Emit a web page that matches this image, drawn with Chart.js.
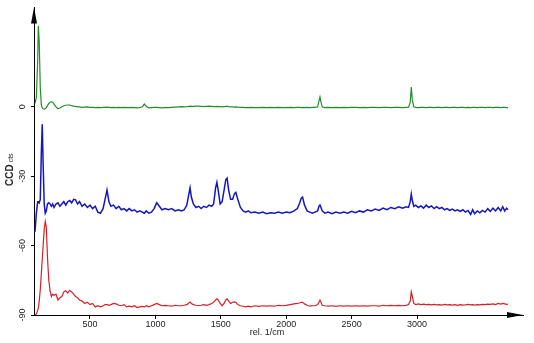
<!DOCTYPE html>
<html>
<head>
<meta charset="utf-8">
<script src="https://cdn.jsdelivr.net/npm/chart.js@4"></script>
<style>
html, body { margin: 0; padding: 0; background: #fff; }
#wrap { width: 534px; height: 343px; }
</style>
</head>
<body>
<div id="wrap"><canvas id="spec"></canvas></div>
<script>
// Raman shift in rel. 1/cm, shared by the three spectra
const shift = [
  80, 90, 100, 105, 112, 120, 128, 135, 142, 150, 158, 166, 175, 185, 195, 205, 215, 225, 240, 255,
  270, 285, 300, 315, 330, 345, 360, 375, 390, 405, 420, 440, 460, 480, 500, 520, 540, 560, 580, 600,
  615, 630, 645, 660, 680, 700, 720, 740, 760, 780, 800, 820, 840, 860, 880, 900, 915, 930, 950, 970,
  990, 1010, 1030, 1050, 1075, 1100, 1125, 1150, 1175, 1200, 1220, 1240, 1255, 1265, 1275, 1290, 1310, 1330, 1350, 1370,
  1390, 1410, 1430, 1445, 1460, 1470, 1480, 1495, 1510, 1525, 1538, 1548, 1560, 1575, 1590, 1605, 1615, 1630, 1650, 1670,
  1690, 1710, 1730, 1760, 1790, 1820, 1850, 1880, 1910, 1940, 1970, 2000, 2030, 2060, 2085, 2100, 2115, 2125, 2140, 2160,
  2180, 2200, 2220, 2240, 2250, 2258, 2266, 2275, 2295, 2320, 2350, 2380, 2410, 2440, 2470, 2500, 2530, 2560, 2590, 2620,
  2650, 2680, 2710, 2740, 2770, 2800, 2830, 2860, 2890, 2915, 2935, 2948, 2956, 2964, 2975, 2990, 3010, 3030, 3050, 3070,
  3090, 3110, 3130, 3150, 3170, 3190, 3210, 3230, 3250, 3270, 3290, 3310, 3330, 3350, 3370, 3390, 3410, 3425, 3440, 3460,
  3480, 3500, 3520, 3540, 3560, 3580, 3600, 3620, 3640, 3655, 3670, 3685, 3695
];

// top spectrum (green)
const greenCts = [
  1.5, 4, 20, 35, 28, 8, 1, -0.5, -0.8, -1, -0.8, -0.3, 0.5, 1.5, 2, 2.2, 2, 1.2, 0, -0.8,
  -0.5, 0, 0.5, 0.7, 0.8, 0.8, 0.5, 0.3, 0.2, 0, 0, -0.2, -0.1, 0, -0.2, -0.2, -0.3, -0.2, -0.3, -0.2,
  -0.2, -0.1, -0.2, -0.3, -0.2, -0.3, -0.2, -0.3, -0.2, -0.3, -0.3, -0.2, -0.3, -0.4, -0.3, 0, 1.2, 0.2, -0.4, -0.3,
  -0.2, -0.2, -0.3, -0.4, -0.3, -0.3, -0.2, -0.1, 0, 0.1, 0, 0.1, 0.2, 0.3, 0.2, 0.2, 0.3, 0.3, 0.2, 0.1,
  0.2, 0.3, 0.2, 0.1, 0.1, 0.2, 0.1, 0.1, 0, 0.1, 0.2, 0.2, 0.1, 0, 0, -0.1, 0, -0.1, -0.2, -0.2,
  -0.3, -0.3, -0.2, -0.3, -0.3, -0.2, -0.3, -0.2, -0.3, -0.2, -0.3, -0.3, -0.2, -0.3, -0.2, -0.2, -0.3, -0.2, -0.3, -0.2,
  -0.3, -0.2, -0.2, 0, 2.5, 4.3, 2, 0, -0.3, -0.2, -0.3, -0.2, -0.3, -0.2, -0.3, -0.2, -0.2, -0.3, -0.2, -0.3,
  -0.2, -0.2, -0.3, -0.2, -0.2, -0.3, -0.2, -0.2, -0.3, -0.2, -0.1, 2, 8.6, 3, 0, -0.2, -0.3, -0.2, -0.2, -0.3,
  -0.2, -0.2, -0.3, -0.2, -0.2, -0.3, -0.2, -0.2, -0.3, -0.2, -0.2, -0.3, -0.2, -0.2, -0.3, -0.2, -0.3, -0.2, -0.2, -0.3,
  -0.2, -0.2, -0.3, -0.2, -0.2, -0.3, -0.2, -0.2, -0.3, -0.2, -0.2, -0.3, -0.3
];

// middle spectrum (blue)
const blueCts = [
  -54, -46, -41, -41, -41.5, -40, -20, -7.5, -25, -42, -46, -45, -42, -41.5, -42, -43, -42, -43.5, -42, -41.5,
  -43, -42, -41, -42.5, -41, -40.5, -41.5, -40, -40.2, -42, -41, -43, -42, -43.5, -42.5, -44, -43, -45.5, -46, -44,
  -40, -36, -41, -43, -42.5, -44, -43, -44.5, -44, -45, -44, -45, -44.5, -45.5, -45, -45.5, -46, -45, -46, -45.5,
  -44, -41.5, -43, -44.5, -44, -44.5, -44, -45, -44.5, -45, -44.5, -42.5, -38, -35, -39, -42, -43.5, -43, -44, -43,
  -43.5, -42.5, -43, -42, -35, -32.6, -36, -42, -41, -36, -31.5, -30.8, -36, -40, -40, -37.5, -37, -40, -43.5, -45,
  -45.5, -45, -45.8, -45.5, -46, -45.5, -46.2, -45.8, -46, -45.5, -46, -45.5, -45.8, -45, -44, -42, -39.5, -39, -42.5, -45,
  -45.5, -46, -45.5, -45, -43, -42.4, -43.5, -45, -46, -45.5, -46.2, -45.5, -46, -45.5, -46, -45.2, -45.8, -45, -45.5, -44.5,
  -45, -44.2, -44.8, -43.8, -44.5, -43.5, -44, -43.2, -43.8, -43.2, -43.5, -41, -37.7, -40.5, -43, -42.5, -43.5, -42.8, -43.8, -42.5,
  -43.5, -42.8, -44, -43.2, -44, -43.5, -44.5, -44, -44.8, -44.2, -45, -44.5, -45.2, -44.5, -45.5, -44.8, -46.5, -44.5, -46.2, -45,
  -45.8, -44.8, -45.5, -44, -45.2, -43.8, -45, -43.5, -45, -43.2, -45, -43.8, -44.5
];

// bottom spectrum (red)
const redCts = [
  -90, -89.5, -88, -87, -84, -79, -72, -66, -60, -53, -49.5, -52, -65, -75, -79.5, -82, -81, -81.5, -81, -83.5,
  -82.5, -82, -80, -79.5, -80.5, -79.3, -80, -81, -82, -82.5, -83.5, -84, -85, -84.5, -85.5, -85, -86.5, -86, -86.5, -86,
  -85.5, -85.5, -85.8, -85.5, -85, -85.2, -85.8, -86, -85.5, -86.5, -86.2, -86.5, -86, -86.8, -86.5, -86.3, -86.5, -86, -86.5, -86,
  -85.5, -85, -85.5, -86, -85.8, -86, -86.2, -85.8, -86, -86, -85.8, -85.5, -84.8, -84.4, -85, -85.5, -85.8, -86, -85.8, -85.5,
  -85.8, -85.5, -85, -84.5, -83.5, -83, -83.5, -85, -86, -85, -83.5, -83, -84, -85, -84.5, -84.3, -84.5, -85.5, -86, -86.2,
  -86.5, -86.2, -86.5, -86, -86.3, -86, -86.2, -86, -86.2, -85.8, -86, -85.8, -85.5, -85.2, -85, -84.8, -84.5, -84.5, -85.2, -85.8,
  -86.2, -86, -86, -85.5, -84.5, -83.6, -84.5, -85.8, -86, -86.2, -86, -86.3, -86, -86.2, -86, -86.2, -86, -86.2, -86, -86.2,
  -86, -86, -86.2, -85.8, -86, -85.8, -86, -85.8, -86, -85.8, -85.5, -84, -80, -82, -85, -85.5, -85.2, -85.5, -85.3, -85.5,
  -85.4, -85.6, -85.4, -85.6, -85.5, -85.7, -85.4, -85.6, -85.5, -85.7, -85.5, -85.8, -85.5, -85.7, -85.6, -85.4, -85.6, -85.5, -85.7, -85.5,
  -85.6, -85.4, -85.5, -85.3, -85.4, -85.2, -85.5, -85, -85.3, -85, -85.2, -85.4, -85.3
];

const xTicks = [500, 1000, 1500, 2000, 2500, 3000];
const yTicks = [0, -30, -60, -90];

function toPoints(ys) {
  return shift.map((x, i) => ({x: x, y: ys[i]}));
}

function createSpectrum(values, color, width) {
  return {
    data: toPoints(values),
    borderColor: color,
    borderWidth: width,
    pointRadius: 0,
    tension: 0,
    fill: false
  };
}

// arrows on the axes and the two axis captions
const axisDecor = {
  id: "axisDecor",
  afterDraw(chart) {
    const ctx = chart.ctx;
    const a = chart.chartArea;
    ctx.save();
    ctx.fillStyle = "#000";
    ctx.beginPath();
    ctx.moveTo(a.left, a.top);
    ctx.lineTo(a.left - 3, a.top + 16);
    ctx.lineTo(a.left + 3, a.top + 16);
    ctx.closePath();
    ctx.fill();
    ctx.beginPath();
    ctx.moveTo(a.right, a.bottom);
    ctx.lineTo(a.right - 16, a.bottom - 3);
    ctx.lineTo(a.right - 16, a.bottom + 3);
    ctx.closePath();
    ctx.fill();

    ctx.fillStyle = "#222";
    ctx.font = "9px 'Liberation Sans', Arial, sans-serif";
    ctx.textAlign = "center";
    ctx.textBaseline = "middle";
    ctx.fillText("rel. 1/cm", 267, 333);

    ctx.translate(13, 186);
    ctx.rotate(-Math.PI / 2);
    ctx.textAlign = "left";
    ctx.textBaseline = "alphabetic";
    ctx.font = "bold 10px 'Liberation Sans', Arial, sans-serif";
    ctx.fillText("CCD", 0, 0);
    const w = ctx.measureText("CCD").width;
    ctx.font = "7px 'Liberation Sans', Arial, sans-serif";
    ctx.fillText("cts", w + 2, 0);
    ctx.restore();
  }
};

const tickFont = {family: "'Liberation Sans', Arial, sans-serif", size: 9};

new Chart(document.getElementById("spec"), {
  type: "line",
  data: {
    datasets: [
      createSpectrum(greenCts, "rgb(34, 140, 40)", 1.2),
      createSpectrum(blueCts, "rgb(22, 22, 190)", 1.5),
      createSpectrum(redCts, "rgb(215, 32, 36)", 1.2)
    ]
  },
  options: {
    responsive: true,
    maintainAspectRatio: false,
    animation: false,
    layout: {padding: {top: 5, right: 11, left: 0, bottom: 0}},
    plugins: {legend: {display: false}, tooltip: {enabled: false}},
    scales: {
      x: {
        type: "linear",
        min: 72,
        max: 3810,
        afterBuildTicks: scale => { scale.ticks = xTicks.map(v => ({value: v})); },
        afterFit: scale => { scale.height = 28; },
        grid: {drawOnChartArea: false, color: "#000", tickLength: 4},
        border: {color: "#000", width: 1},
        ticks: {font: tickFont, color: "#222", padding: 0, maxRotation: 0, callback: v => String(v)}
      },
      y: {
        type: "linear",
        min: -90,
        max: 43,
        afterBuildTicks: scale => { scale.ticks = yTicks.map(v => ({value: v})); },
        afterFit: scale => { scale.width = 34; },
        grid: {drawOnChartArea: false, color: "#000", tickLength: 3},
        border: {color: "#000", width: 1},
        ticks: {font: tickFont, color: "#222", padding: 2, minRotation: 90, maxRotation: 90, crossAlign: "center", callback: v => String(v)}
      }
    }
  },
  plugins: [axisDecor]
});
</script>
</body>
</html>
